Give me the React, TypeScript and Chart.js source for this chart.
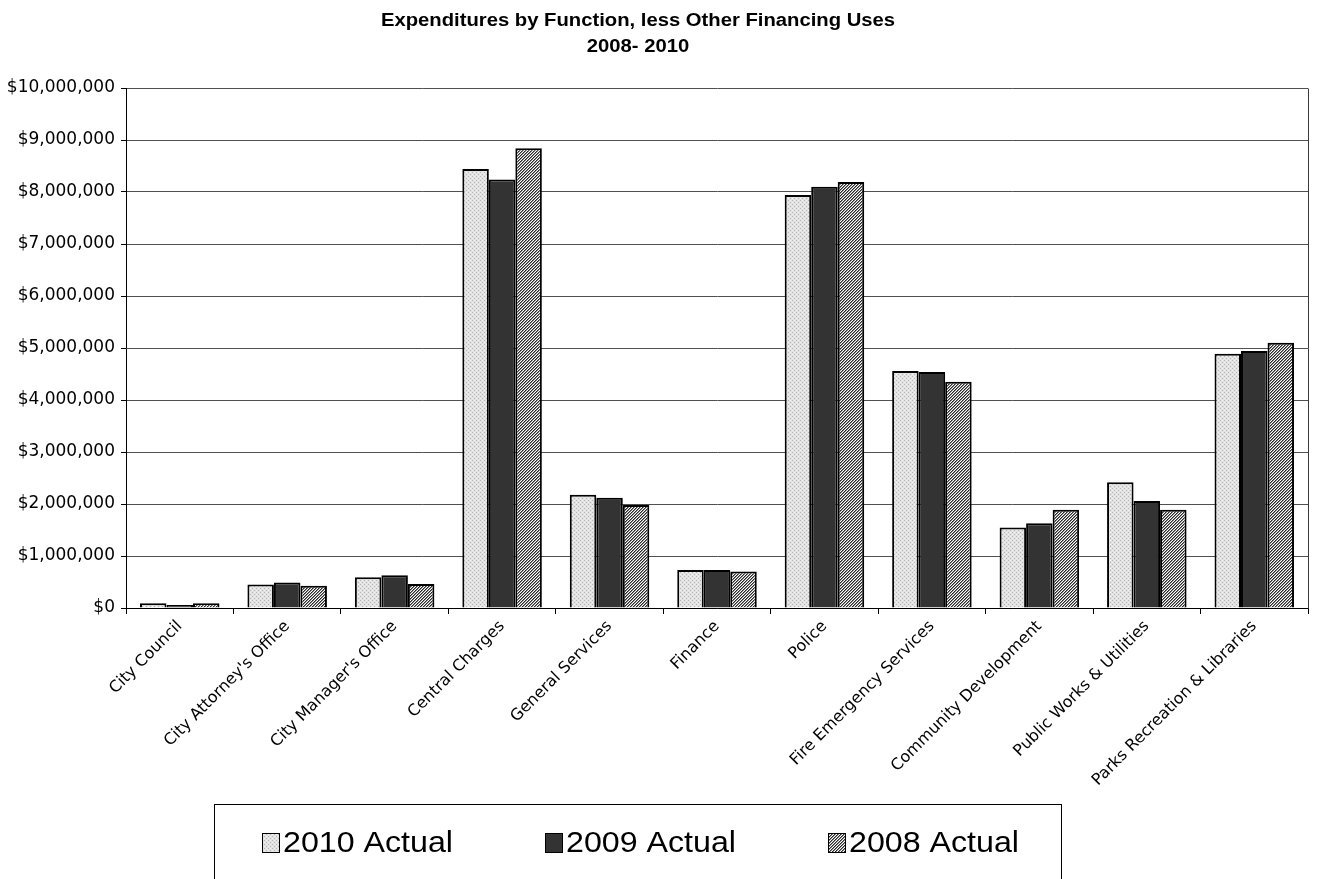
import React, { useEffect, useRef } from "react";
import { Chart, registerables } from "chart.js";

Chart.register(...registerables);

const categories = [
  "City Council",
  "City Attorney's Office",
  "City Manager's Office",
  "Central Charges",
  "General Services",
  "Finance",
  "Police",
  "Fire Emergency Services",
  "Community Development",
  "Public Works & Utilities",
  "Parks Recreation & Libraries",
];

const seriesNames = ["2010 Actual", "2009 Actual", "2008 Actual"];

const actual2010 = [90000, 450000, 590000, 8440000, 2180000, 730000, 7940000, 4560000, 1550000, 2420000, 4890000];
const actual2009 = [60000, 490000, 630000, 8240000, 2120000, 730000, 8100000, 4540000, 1630000, 2060000, 4940000];
const actual2008 = [90000, 430000, 460000, 8840000, 1980000, 700000, 8190000, 4350000, 1890000, 1890000, 5100000];

const titleLines = ["Expenditures by Function, less Other Financing Uses", "2008- 2010"];

const yMin = 0;
const yMax = 10000000;
const yStep = 1000000;

function makeDotPattern(ctx: CanvasRenderingContext2D) {
  const c = document.createElement("canvas");
  c.width = 4;
  c.height = 4;
  const g = c.getContext("2d")!;
  g.fillStyle = "#e2e2e2";
  g.fillRect(0, 0, 4, 4);
  g.fillStyle = "#b4b4b4";
  g.fillRect(0, 0, 1, 1);
  g.fillRect(2, 2, 1, 1);
  g.fillStyle = "#f2f2f2";
  g.fillRect(2, 0, 1, 1);
  g.fillRect(0, 2, 1, 1);
  return ctx.createPattern(c, "repeat")!;
}

function makeHatchPattern(ctx: CanvasRenderingContext2D) {
  const c = document.createElement("canvas");
  c.width = 3;
  c.height = 3;
  const g = c.getContext("2d")!;
  for (let x = 0; x < 3; x++) {
    for (let y = 0; y < 3; y++) {
      const k = (x + y) % 3;
      g.fillStyle = k === 0 ? "#2a2a2a" : k === 1 ? "#8a8a8a" : "#ffffff";
      g.fillRect(x, y, 1, 1);
    }
  }
  return ctx.createPattern(c, "repeat")!;
}

export default function App() {
  const canvasRef = useRef<HTMLCanvasElement | null>(null);

  useEffect(() => {
    const canvas = canvasRef.current!;
    const ctx = canvas.getContext("2d")!;
    const fills = [makeDotPattern(ctx), "#333333", makeHatchPattern(ctx)];
    const values = [actual2010, actual2009, actual2008];

    const decorPlugin = {
      id: "decor",
      afterDraw(chart: any) {
        const c = chart.ctx as CanvasRenderingContext2D;
        const area = chart.chartArea;
        c.save();
        c.strokeStyle = "#3a3a3a";
        c.lineWidth = 1;
        c.beginPath();
        c.moveTo(Math.round(area.right) + 0.5, Math.round(area.top) + 0.5);
        c.lineTo(Math.round(area.right) + 0.5, Math.round(area.bottom) + 0.5);
        c.stroke();

        c.fillStyle = "#000";
        c.font = "bold 18px 'Liberation Sans', Arial, sans-serif";
        c.textAlign = "center";
        c.textBaseline = "alphabetic";
        const titleCx = 638;
        const baselines = [26, 52];
        titleLines.forEach((t, i) => {
          c.save();
          c.translate(titleCx, baselines[i]);
          c.scale(1.125, 1);
          c.fillText(t, 0, 0);
          c.restore();
        });

        c.strokeStyle = "#000";
        c.lineWidth = 1;
        c.strokeRect(214.5, 804.5, 847, 90);
        const ds = chart.data.datasets;
        ds.forEach((d: any, i: number) => {
          const x0 = 262 + i * 283;
          c.fillStyle = d.backgroundColor;
          c.fillRect(x0, 833, 17, 19);
          c.strokeStyle = "#000";
          c.lineWidth = 1;
          c.strokeRect(x0 + 0.5, 833.5, 17, 19);
          c.save();
          c.translate(x0 + 21, 852);
          c.scale(1.11, 1);
          c.fillStyle = "#000";
          c.font = "29px 'Liberation Sans', Arial, sans-serif";
          c.textAlign = "left";
          c.fillText(d.label, 0, 0);
          c.restore();
        });
        c.restore();
      },
    };

    const chart = new Chart(canvas, {
      type: "bar",
      data: {
        labels: categories,
        datasets: seriesNames.map((name, i) => ({
          label: name,
          data: values[i],
          backgroundColor: fills[i] as any,
          borderColor: "#000",
          borderWidth: 2,
          categoryPercentage: 0.74,
          barPercentage: 1,
        })),
      },
      options: {
        responsive: false,
        animation: false,
        layout: { padding: { top: 88, right: 10, left: 0, bottom: 0 } },
        plugins: {
          legend: { display: false },
          title: { display: false },
          tooltip: { enabled: false },
        },
        scales: {
          x: {
            grid: {
              display: true,
              drawOnChartArea: false,
              drawTicks: true,
              tickLength: 6,
              tickColor: "#000",
              offset: true,
            },
            border: { display: true, color: "#000", width: 1 },
            ticks: {
              autoSkip: false,
              minRotation: 45,
              maxRotation: 45,
              color: "#000",
              padding: 3,
              font: { family: "'DejaVu Sans', sans-serif", size: 16 },
            },
            afterFit(scale: any) {
              scale.height = 271;
            },
          },
          y: {
            min: yMin,
            max: yMax,
            ticks: {
              stepSize: yStep,
              color: "#000",
              padding: 6,
              font: { family: "'DejaVu Sans', sans-serif", size: 17 },
              callback: (v: any) => "$" + Number(v).toLocaleString("en-US"),
            },
            grid: {
              color: "#505050",
              lineWidth: 1,
              drawTicks: true,
              tickLength: 5,
              tickColor: "#000",
            },
            border: { display: true, color: "#000", width: 1 },
            afterFit(scale: any) {
              scale.width = 126;
            },
          },
        },
      },
      plugins: [decorPlugin],
    });

    return () => chart.destroy();
  }, []);

  return (
    <div style={{ position: "absolute", left: 0, top: 0, width: 1318, height: 879, background: "#fff" }}>
      <canvas ref={canvasRef} width={1318} height={879} style={{ display: "block" }} />
    </div>
  );
}
